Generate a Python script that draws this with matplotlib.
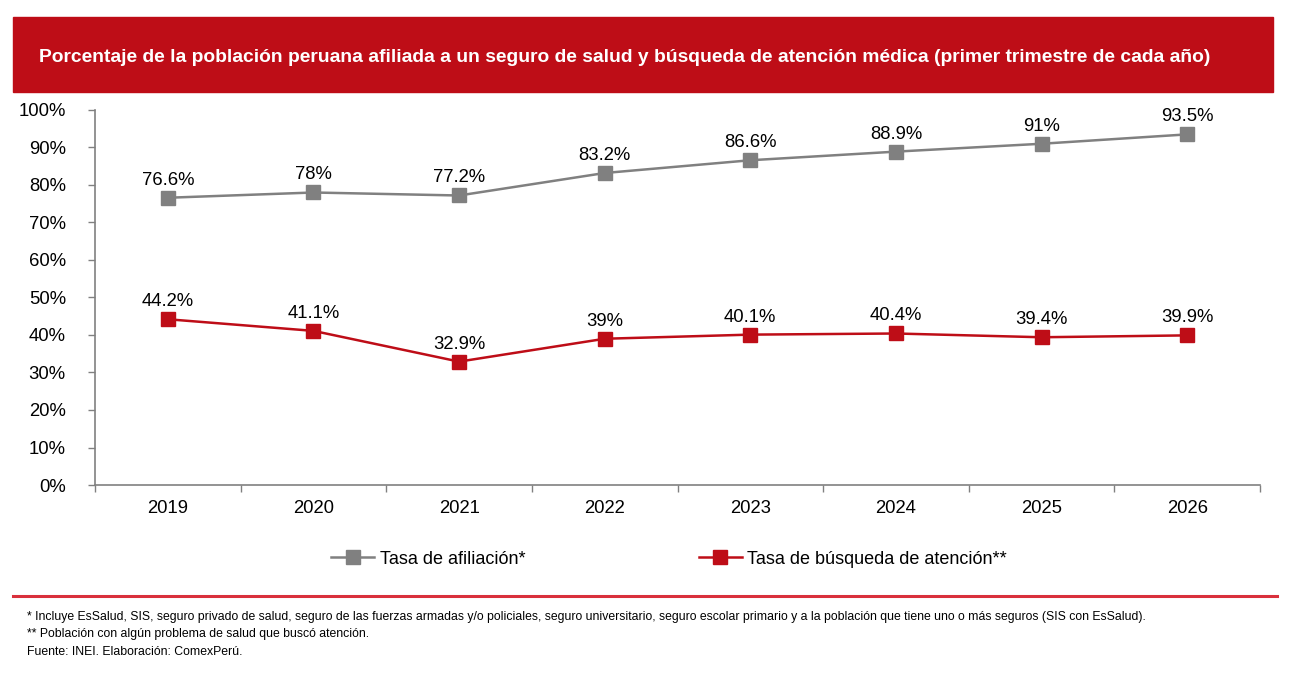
import matplotlib
matplotlib.use("Agg")
import matplotlib.pyplot as plt
from matplotlib.patches import Rectangle
from matplotlib.lines import Line2D

plt.rcParams['font.family'] = ['Liberation Sans', 'DejaVu Sans']

# Datos
anios = ['2019', '2020', '2021', '2022', '2023', '2024', '2025', '2026']
tasa_afiliacion = [76.6, 78, 77.2, 83.2, 86.6, 88.9, 91, 93.5]
tasa_busqueda = [44.2, 41.1, 32.9, 39, 40.1, 40.4, 39.4, 39.9]
etiquetas_y = ['0%', '10%', '20%', '30%', '40%', '50%', '60%', '70%', '80%', '90%', '100%']

titulo = ('Porcentaje de la población peruana afiliada a un seguro de salud y '
          'búsqueda de atención médica (primer trimestre de cada año)')
notas = [
    '* Incluye EsSalud, SIS, seguro privado de salud, seguro de las fuerzas armadas y/o policiales, '
    'seguro universitario, seguro escolar primario y a la población que tiene uno o más seguros (SIS con EsSalud).',
    '** Población con algún problema de salud que buscó atención.',
    'Fuente: INEI. Elaboración: ComexPerú.',
]

gris = '#808080'
rojo = '#BE0D17'

fig = plt.figure(figsize=(12.97, 6.84), dpi=100)
W, H = 1297, 684

# Banda del título
fig.patches.append(Rectangle((13 / W, 1 - 92 / H), 1260 / W, 75 / H,
                             transform=fig.transFigure, color=rojo, zorder=0))
fig.text(625 / W, 1 - 57 / H, titulo, color='white', fontsize=13.9,
         fontweight='bold', ha='center', va='center')

ax = fig.add_axes([95 / W, 1 - 485 / H, 1165 / W, 375 / H])
x = list(range(len(anios)))
ax.plot(x, tasa_afiliacion, color=gris, lw=1.8, marker='s', ms=10.5,
        label='Tasa de afiliación*')
ax.plot(x, tasa_busqueda, color=rojo, lw=1.8, marker='s', ms=10.5,
        label='Tasa de búsqueda de atención**')

for serie in (tasa_afiliacion, tasa_busqueda):
    for xi, v in zip(x, serie):
        ax.annotate(f'{v:g}%', (xi, v), xytext=(0, 6.5), textcoords='offset points',
                    ha='center', va='bottom', fontsize=13.3)

ax.set_xlim(-0.5, len(anios) - 0.5)
ax.set_ylim(0, 100)
ax.set_yticks(range(0, 101, 10))
ax.set_yticklabels(etiquetas_y)
ax.set_xticks([i - 0.5 for i in range(len(anios) + 1)], minor=False)
ax.set_xticklabels([])
ax.set_xticks(x, minor=True)
ax.set_xticklabels(anios, minor=True)
ax.tick_params(axis='x', which='major', length=5, color=gris, width=1)
ax.tick_params(axis='x', which='minor', length=0, labelsize=13.3, pad=11)
ax.tick_params(axis='y', length=5, color=gris, width=1, labelsize=13.3, pad=16)
for s in ['top', 'right']:
    ax.spines[s].set_visible(False)
for s in ['left', 'bottom']:
    ax.spines[s].set_color(gris)
    ax.spines[s].set_linewidth(1.2)

handles, labels = ax.get_legend_handles_labels()
fig.legend(handles, labels, loc='center', bbox_to_anchor=(669 / W, 1 - 559 / H),
           ncol=2, frameon=False, fontsize=13, columnspacing=9.6,
           handlelength=2.4, handletextpad=0.3)

# Línea separadora y notas
fig.add_artist(Line2D([13 / W, 1277 / W], [1 - 596 / H, 1 - 596 / H],
                      color='#D9303C', lw=2.2, transform=fig.transFigure))
for i, n in enumerate(notas):
    fig.text(27 / W, 1 - (617 + 17.5 * i) / H, n, fontsize=8.8,
             ha='left', va='center')

fig.savefig('out.png', dpi=100)
